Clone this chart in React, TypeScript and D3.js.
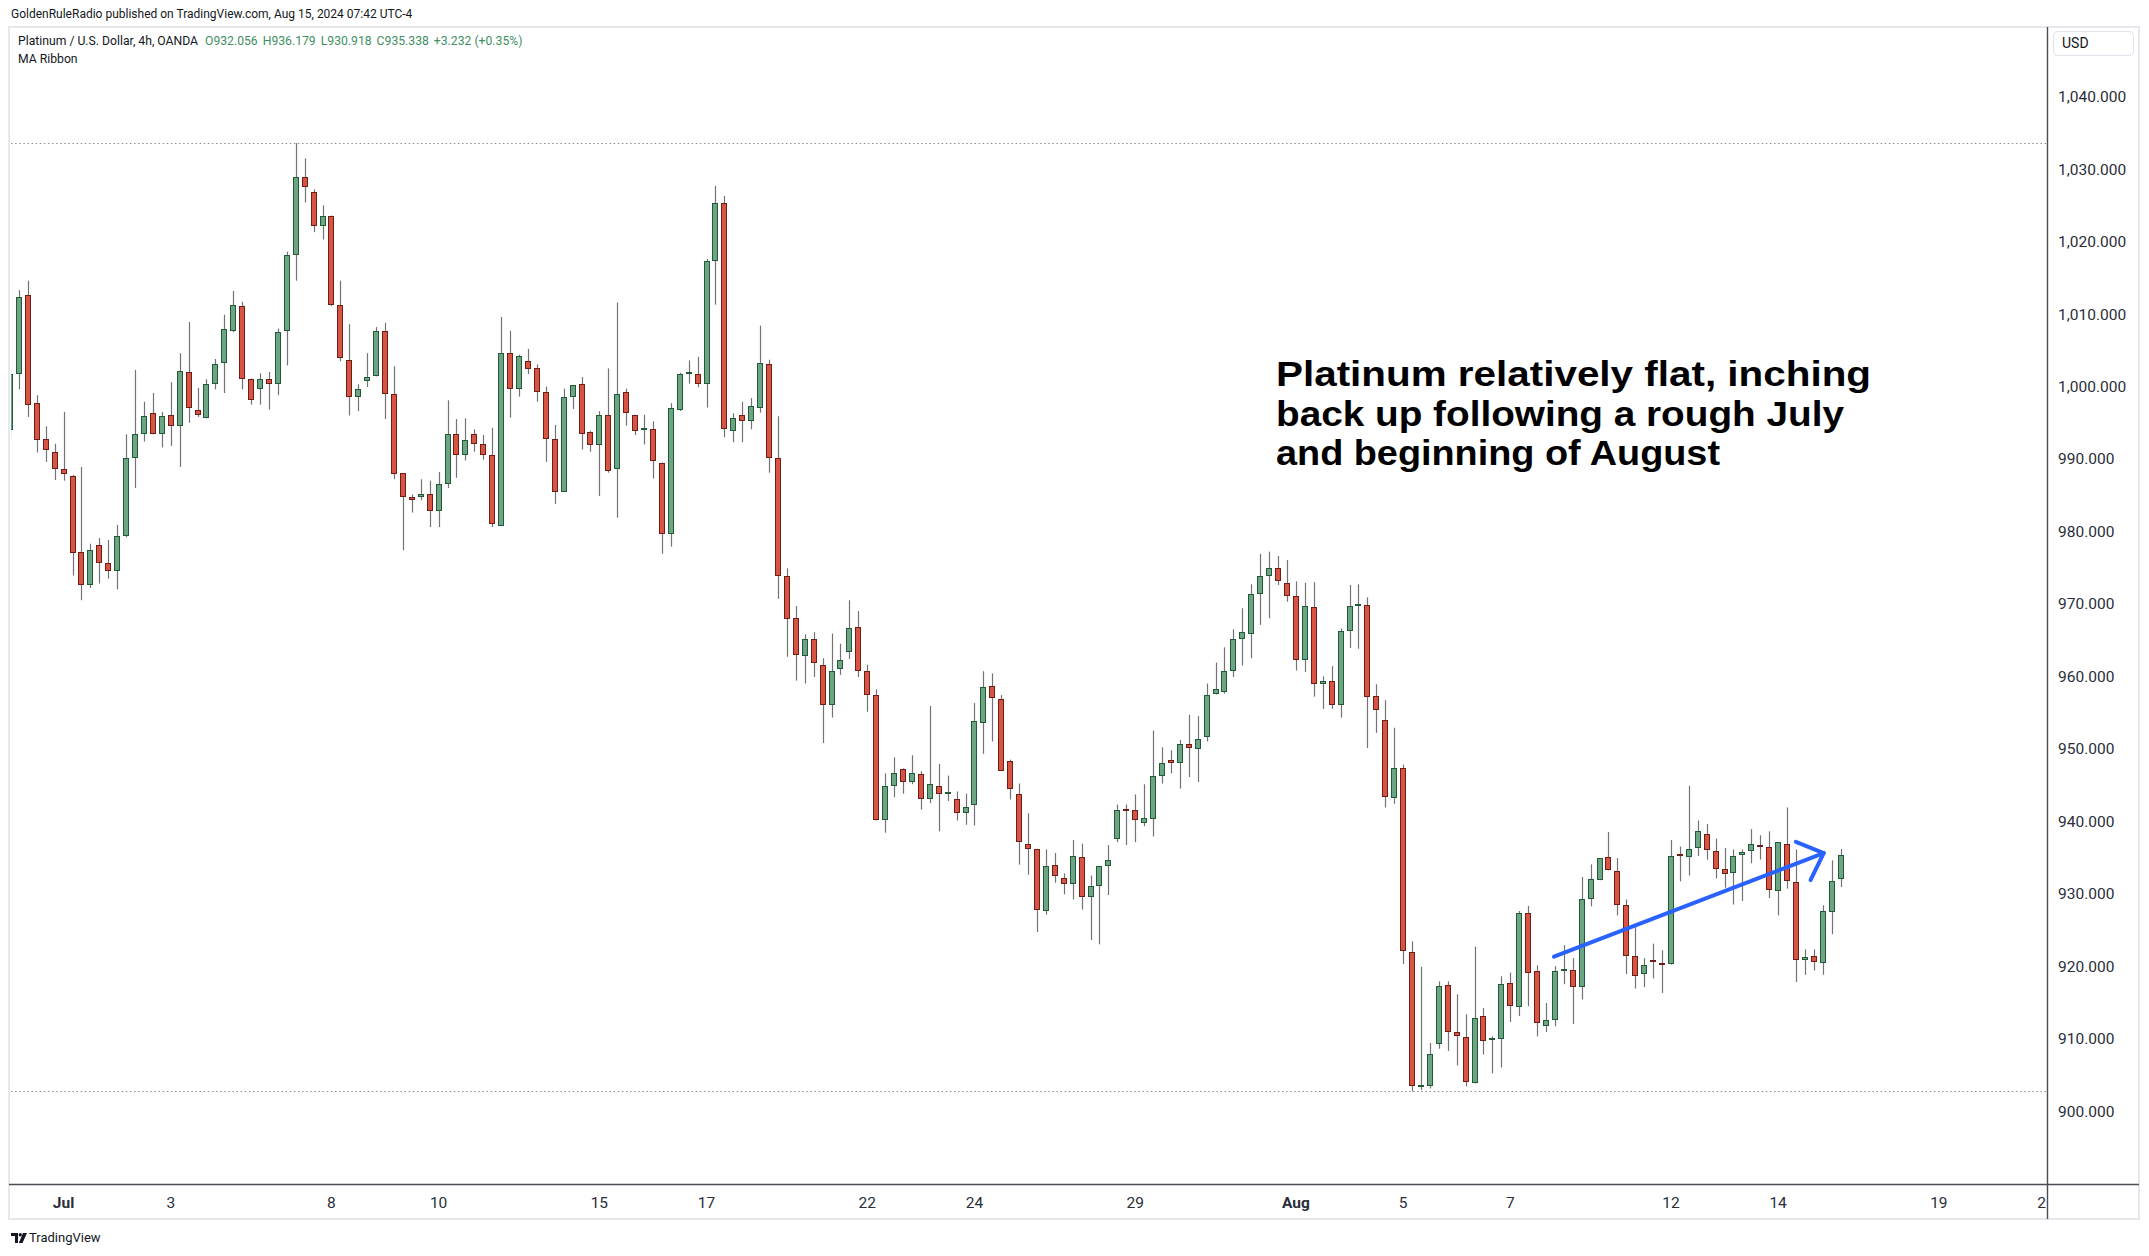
import React from "react";
import * as d3 from "d3";

// ---- data (4h bars, index 0 = first visible bar, Jun 28) ----
const opens = [
  994.0, 1001.7, 1012.6, 997.7, 992.8, 991.0, 988.6, 987.6, 977.1, 972.6,
  978.1, 975.6, 974.5, 979.4, 990.2, 993.4, 996.4, 993.4, 996.0, 994.6,
  1002.0, 996.8, 995.6, 1000.4, 1003.2, 1007.6, 1011.1, 1001.0, 999.7, 1001.0,
  1000.4, 1007.6, 1018.1, 1028.9, 1026.8, 1022.1, 1023.5, 1011.3, 1003.7, 998.5,
  1000.7, 1001.4, 1007.6, 999.0, 988.0, 984.7, 984.7, 985.1, 982.8, 986.6,
  993.5, 990.6, 993.5, 992.0, 990.6, 980.8, 1004.6, 999.6, 1003.5, 1002.5,
  999.3, 992.7, 985.5, 998.6, 1000.3, 993.7, 991.9, 996.0, 988.6, 999.2,
  996.1, 993.8, 994.2, 989.5, 979.6, 996.8, 1001.8, 1001.7, 1000.3, 1017.3,
  1025.3, 993.9, 996.0, 995.2, 997.1, 1003.05, 990.2, 973.9, 968.1, 962.8,
  965.2, 961.6, 956.0, 961.0, 963.3, 966.8, 960.8, 957.4, 940.2, 944.9,
  947.15, 945.4, 946.5, 943.0, 944.9, 943.8, 943.0, 941.1, 942.2, 953.6,
  958.6, 956.8, 948.3, 943.8, 936.9, 936.1, 927.6, 933.9, 932.2, 931.4,
  935.0, 929.6, 931.1, 933.8, 937.6, 941.6, 941.5, 939.8, 940.3, 946.3,
  948.4, 948.0, 950.7, 950.0, 951.6, 957.5, 957.8, 960.7, 965.2, 965.9,
  971.3, 973.9, 974.9, 972.9, 971.1, 962.2, 969.5, 958.9, 959.3, 956.0,
  966.3, 969.85, 969.9, 957.3, 954.0, 943.2, 947.3, 922.0, 903.4, 903.4,
  909.3, 917.35, 910.9, 910.2, 903.8, 913.1, 909.8, 909.9, 917.6, 914.3,
  927.3, 919.3, 911.7, 912.5, 919.35, 919.4, 917.1, 929.2, 931.85, 935.0,
  933.1, 928.5, 921.35, 918.9, 920.7, 920.3, 920.3, 935.3, 935.0, 936.3,
  938.2, 935.85, 933.4, 932.8, 935.4, 935.85, 936.6, 936.4, 930.3, 936.9,
  931.6, 920.9, 921.35, 920.4, 927.5, 932.056,
];
const highs = [
  1002.5, 1013.3, 1014.6, 998.8, 994.5, 992.1, 996.5, 987.8, 988.9, 978.3,
  979.1, 978.8, 980.9, 993.4, 1002.3, 997.9, 999.1, 996.5, 1000.6, 1004.6,
  1008.9, 999.8, 1001.0, 1003.8, 1009.9, 1013.2, 1011.7, 1001.1, 1001.8, 1002.0,
  1008.0, 1018.6, 1033.6, 1031.5, 1027.2, 1025.0, 1023.6, 1014.6, 1008.6, 1000.3,
  1004.6, 1008.2, 1008.8, 1002.8, 988.0, 985.1, 987.2, 987.0, 988.2, 998.1,
  995.5, 995.6, 994.1, 993.3, 994.3, 1009.6, 1007.7, 1004.4, 1005.2, 1003.05,
  1000.0, 994.7, 999.7, 1000.2, 1001.3, 993.9, 996.6, 1002.5, 1011.6, 999.7,
  996.1, 996.1, 995.2, 989.5, 997.7, 1001.9, 1003.6, 1004.1, 1017.6, 1027.7,
  1026.3, 996.3, 997.9, 998.4, 1008.4, 1003.7, 995.9, 974.9, 969.7, 965.8,
  966.1, 962.5, 965.9, 964.5, 970.5, 969.0, 961.6, 958.2, 946.6, 948.8,
  947.3, 949.1, 946.9, 955.9, 947.9, 946.3, 944.1, 943.8, 956.3, 960.7,
  960.4, 957.4, 948.5, 945.2, 941.1, 936.2, 936.1, 935.6, 932.8, 937.4,
  936.9, 932.5, 933.8, 936.7, 942.3, 942.3, 943.7, 945.1, 952.5, 950.2,
  949.8, 951.2, 954.7, 954.5, 959.0, 961.9, 964.0, 966.5, 969.4, 972.7,
  976.9, 977.2, 976.6, 976.05, 973.1, 972.9, 973.0, 960.0, 961.4, 966.6,
  972.6, 972.7, 970.9, 958.9, 956.7, 952.9, 947.8, 923.4, 919.9, 909.4,
  917.9, 917.9, 916.1, 913.35, 922.7, 914.2, 910.3, 918.6, 919.1, 927.6,
  928.3, 920.1, 914.9, 920.0, 922.9, 921.1, 932.3, 934.05, 934.9, 938.5,
  934.9, 929.2, 925.4, 921.1, 923.1, 922.2, 937.4, 936.5, 944.9, 940.1,
  939.6, 937.6, 936.3, 936.1, 936.1, 938.9, 938.05, 938.6, 937.1, 941.9,
  936.1, 922.3, 922.3, 928.4, 934.6, 936.179,
];
const lows = [
  993.1, 999.6, 995.8, 990.9, 989.6, 987.1, 987.0, 973.9, 970.5, 972.2,
  972.8, 973.5, 972.0, 979.2, 986.0, 992.4, 993.4, 991.6, 991.8, 988.9,
  995.0, 995.8, 995.6, 999.6, 999.1, 1007.5, 999.6, 997.5, 997.5, 996.8,
  998.8, 1002.9, 1014.6, 1025.4, 1021.3, 1020.3, 1011.1, 1003.5, 996.0, 996.6,
  999.9, 1001.4, 995.5, 987.2, 977.4, 982.6, 984.3, 980.6, 980.6, 986.0,
  987.4, 989.8, 991.0, 989.9, 980.6, 980.8, 995.7, 998.6, 1001.7, 997.9,
  989.6, 983.8, 985.5, 996.9, 991.3, 991.0, 984.9, 988.1, 981.9, 994.6,
  993.3, 992.0, 987.3, 976.9, 977.9, 996.6, 1000.4, 999.9, 997.1, 1011.3,
  993.0, 992.3, 992.3, 994.1, 996.4, 988.1, 970.7, 962.7, 959.4, 959.0,
  959.9, 950.8, 954.3, 960.2, 962.4, 959.9, 955.1, 940.1, 938.4, 943.3,
  943.8, 945.1, 941.6, 942.5, 938.6, 942.8, 940.1, 939.5, 939.4, 949.3,
  951.0, 946.9, 943.0, 934.0, 932.6, 924.7, 927.1, 931.5, 929.9, 929.2,
  927.8, 923.6, 923.0, 929.8, 937.1, 936.7, 937.1, 939.3, 937.9, 945.2,
  946.6, 944.5, 946.1, 945.4, 951.0, 957.5, 957.6, 959.9, 961.5, 962.5,
  967.1, 968.0, 972.6, 970.3, 960.8, 960.6, 957.2, 955.5, 955.5, 954.3,
  963.9, 963.8, 950.1, 952.2, 941.9, 942.4, 920.3, 902.7, 902.9, 903.1,
  908.6, 908.3, 906.3, 903.4, 903.8, 907.8, 905.2, 906.0, 912.3, 913.1,
  914.45, 910.3, 910.9, 911.7, 917.5, 912.0, 915.4, 928.25, 931.85, 933.2,
  927.0, 918.9, 916.9, 917.1, 918.3, 916.3, 920.2, 931.7, 932.5, 935.2,
  934.7, 932.1, 930.8, 928.5, 929.0, 934.2, 934.7, 929.4, 927.0, 930.7,
  917.8, 918.8, 919.4, 918.8, 924.4, 930.918,
];
const closes = [
  1001.7, 1012.4, 997.5, 992.6, 991.2, 988.6, 987.9, 977.0, 972.6, 977.5,
  975.6, 974.5, 979.4, 990.2, 993.4, 995.9, 993.5, 995.9, 994.6, 1002.1,
  997.0, 996.1, 1000.4, 1003.1, 1008.0, 1011.2, 1001.0, 998.1, 1001.0, 1000.3,
  1007.5, 1018.1, 1028.9, 1027.5, 1022.2, 1023.5, 1011.3, 1003.9, 998.6, 999.6,
  1001.3, 1007.6, 999.0, 987.9, 984.8, 984.4, 985.1, 982.8, 986.5, 993.4,
  990.6, 992.6, 992.0, 990.5, 981.0, 1004.6, 999.6, 1004.2, 1002.4, 999.2,
  992.7, 985.5, 998.6, 1000.2, 993.4, 991.9, 996.0, 988.4, 999.0, 996.4,
  993.8, 994.1, 989.7, 979.6, 997.0, 1001.7, 1001.9, 1000.4, 1017.3, 1025.3,
  994.1, 995.7, 995.3, 997.3, 1003.2, 990.1, 973.9, 967.9, 962.9, 965.1,
  961.8, 956.1, 960.8, 962.3, 966.6, 960.8, 957.4, 940.2, 944.8, 946.6,
  945.4, 946.6, 943.0, 945.1, 943.7, 943.85, 941.1, 942.0, 953.8, 958.5,
  957.0, 946.9, 944.4, 937.1, 936.1, 927.7, 933.8, 932.5, 931.4, 935.2,
  929.6, 931.0, 933.8, 934.7, 941.5, 941.4, 940.1, 940.4, 946.2, 948.0,
  948.0, 950.7, 950.1, 951.4, 957.4, 958.2, 960.8, 965.1, 966.1, 971.3,
  973.9, 974.9, 973.1, 971.1, 962.3, 969.7, 958.9, 959.3, 956.0, 966.2,
  969.7, 969.9, 957.2, 955.3, 943.4, 947.3, 922.1, 903.4, 903.5, 907.9,
  917.2, 910.9, 910.3, 904.0, 912.9, 909.6, 909.9, 917.5, 914.45, 927.3,
  919.1, 912.1, 912.5, 919.3, 919.4, 917.1, 929.2, 932.0, 934.9, 933.2,
  928.4, 921.35, 918.7, 920.1, 920.4, 920.1, 935.2, 935.0, 936.1, 938.7,
  936.0, 933.4, 932.7, 935.2, 935.7, 936.9, 936.5, 930.5, 937.1, 931.7,
  920.9, 921.2, 920.5, 927.6, 931.8, 935.338,
];

// time-axis labels: bar index of first bar of the day, label
const dayTickBars = [6, 18, 36, 48, 66, 78, 96, 108, 126, 144, 156, 168, 186, 198, 216, 228];
const dayTickLabels = ["Jul", "3", "8", "10", "15", "17", "22", "24", "29", "Aug", "5", "7", "12", "14", "19", "21"];
const monthLabels = ["Jul", "Aug"];

const priceTicks = [900, 910, 920, 930, 940, 950, 960, 970, 980, 990, 1000, 1010, 1020, 1030, 1040];

const annotationLines = [
  "Platinum relatively flat, inching",
  "back up following a rough July",
  "and beginning of August",
];
// arrow drawing: [bar index, price]
const arrowFrom = [172.9, 921.3];
const arrowTo = [203.1, 935.6];

const legendName = "Platinum / U.S. Dollar, 4h, OANDA";
const legendValues = ["O932.056", "H936.179", "L930.918", "C935.338", "+3.232 (+0.35%)"];

const UI = "Roboto, 'Noto Sans', 'DejaVu Sans', sans-serif";

export default function App() {
  const W = 2149, H = 1256;
  const plotL = 11, plotR = 2047, plotT = 28, plotB = 1184;
  const panelL = 9, panelT = 27, panelR = 2139, panelB = 1219;

  const x = d3.scaleLinear().domain([0, 205]).range([10, 10 + 205 * 8.93]);
  const y = d3.scaleLinear().domain([900, 1040]).range([1111, 96.7]);
  const fmt = d3.format(",.3f");

  const hi = d3.max(highs) as number;
  const lo = d3.min(lows) as number;

  const upFill = "#6ba583", upLine = "#225a38";
  const dnFill = "#d75442", dnLine = "#6e1d17";
  const wickC = "#737375";

  const ax1 = x(arrowFrom[0]), ay1 = y(arrowFrom[1]);
  const ax2 = x(arrowTo[0]), ay2 = y(arrowTo[1]);
  const ang = Math.atan2(ay2 - ay1, ax2 - ax1);
  const wl = 30, wa = (43 * Math.PI) / 180;
  const w1 = [ax2 - wl * Math.cos(ang - wa), ay2 - wl * Math.sin(ang - wa)];
  const w2 = [ax2 - wl * Math.cos(ang + wa), ay2 - wl * Math.sin(ang + wa)];

  const textWidths = [595, 568, 444];

  return (
    <svg width={W} height={H} style={{ position: "absolute", left: 0, top: 0, display: "block", background: "#fff" }}>
      <defs>
        <clipPath id="plot">
          <rect x={plotL} y={plotT} width={plotR - plotL} height={plotB - plotT} />
        </clipPath>
        <clipPath id="timeaxis">
          <rect x={plotL} y={plotB} width={plotR - plotL} height={panelB - plotB} />
        </clipPath>
      </defs>
      <rect x={0} y={0} width={W} height={H} fill="#fff" />

      {/* header */}
      <text x={11} y={18} fontFamily={UI} fontSize={12} fill="#131722">
        GoldenRuleRadio published on TradingView.com, Aug 15, 2024 07:42 UTC-4
      </text>

      {/* panel frame */}
      <rect x={panelL} y={panelT} width={panelR - panelL} height={panelB - panelT} fill="#fff" stroke="#e6e8ee" strokeWidth={2} />

      {/* dotted high/low lines */}
      <g clipPath="url(#plot)">
        {[hi, lo].map((v, i) => (
          <line key={i} x1={plotL} x2={plotR} y1={Math.round(y(v)) + 0.5} y2={Math.round(y(v)) + 0.5}
            stroke="#8a8d96" strokeWidth={1} strokeDasharray="1.5 2.6" />
        ))}
      </g>

      {/* candles */}
      <g clipPath="url(#plot)">
        {opens.map((o, i) => {
          const c = closes[i];
          const up = c >= o;
          const cx = Math.round(x(i));
          const yT = Math.round(y(Math.max(o, c)));
          const yB = Math.round(y(Math.min(o, c)));
          return (
            <g key={i}>
              <line x1={cx + 0.5} x2={cx + 0.5} y1={y(highs[i])} y2={y(lows[i])} stroke={wickC} strokeWidth={1.2} />
              {yB - yT < 3 ? (
                <rect x={cx - 3} y={yT - 1} width={6} height={2} fill={up ? upLine : dnLine} />
              ) : (
                <rect x={cx - 2.5} y={yT + 0.5} width={5} height={yB - yT - 1}
                  fill={up ? upFill : dnFill} stroke={up ? upLine : dnLine} strokeWidth={1} />
              )}
            </g>
          );
        })}
      </g>

      {/* annotation arrow */}
      <g clipPath="url(#plot)" stroke="#2962ff" strokeWidth={4} strokeLinecap="round" strokeLinejoin="round" fill="none">
        <line x1={ax1} y1={ay1} x2={ax2} y2={ay2} />
        <path d={`M${w2[0]},${w2[1]} L${ax2},${ay2} L${w1[0]},${w1[1]}`} />
      </g>

      {/* annotation text */}
      <g fontFamily="'Liberation Sans', Arial, sans-serif" fontWeight={700} fontSize={35} fill="#000">
        {annotationLines.map((t, i) => (
          <text key={i} x={1276} y={386 + i * 39.5} textLength={textWidths[i]} lengthAdjust="spacingAndGlyphs">{t}</text>
        ))}
      </g>

      {/* legend */}
      <text x={18} y={45} fontFamily={UI} fontSize={12.2} fill="#131722">
        {legendName}
        {legendValues.map((v, i) => (
          <tspan key={i} fill="#3f8f63" dx={i === 0 ? 7 : 5}>{v}</tspan>
        ))}
      </text>
      <text x={18} y={63} fontFamily={UI} fontSize={12.2} fill="#131722">MA Ribbon</text>

      {/* axes lines */}
      <line x1={panelL} x2={panelR} y1={plotB + 0.5} y2={plotB + 0.5} stroke="#4a4d55" strokeWidth={1.4} />
      <line x1={plotR + 0.5} x2={plotR + 0.5} y1={panelT} y2={panelB} stroke="#4a4d55" strokeWidth={1.4} />

      {/* price axis */}
      <rect x={2053.5} y={31.5} width={80} height={24} rx={4} fill="#fff" stroke="#e0e3eb" />
      <text x={2062} y={48} fontFamily={UI} fontSize={14} fill="#131722">USD</text>
      <g fontFamily={UI} fontSize={15.5} fill="#2a2e39">
        {priceTicks.map((p) => (
          <text key={p} x={2058} y={y(p) + 5.5}>{fmt(p)}</text>
        ))}
      </g>

      {/* time axis */}
      <g clipPath="url(#timeaxis)" fontFamily={UI} fontSize={15.5} fill="#2a2e39" textAnchor="middle">
        {dayTickBars.map((b, i) => (
          <text key={i} x={x(b)} y={1207.5} fontWeight={monthLabels.includes(dayTickLabels[i]) ? 700 : 400}>
            {dayTickLabels[i]}
          </text>
        ))}
      </g>

      {/* footer logo */}
      <g fill="#131722">
        <path d="M11,1233 H18 V1243 H15 V1236 H11 Z" />
        <circle cx={20.3} cy={1234.8} r={1.7} />
        <path d="M23,1233 H27 L22.5,1243 H18.8 Z" />
      </g>
      <text x={29} y={1242} fontFamily={UI} fontSize={13} fill="#131722">TradingView</text>
    </svg>
  );
}
